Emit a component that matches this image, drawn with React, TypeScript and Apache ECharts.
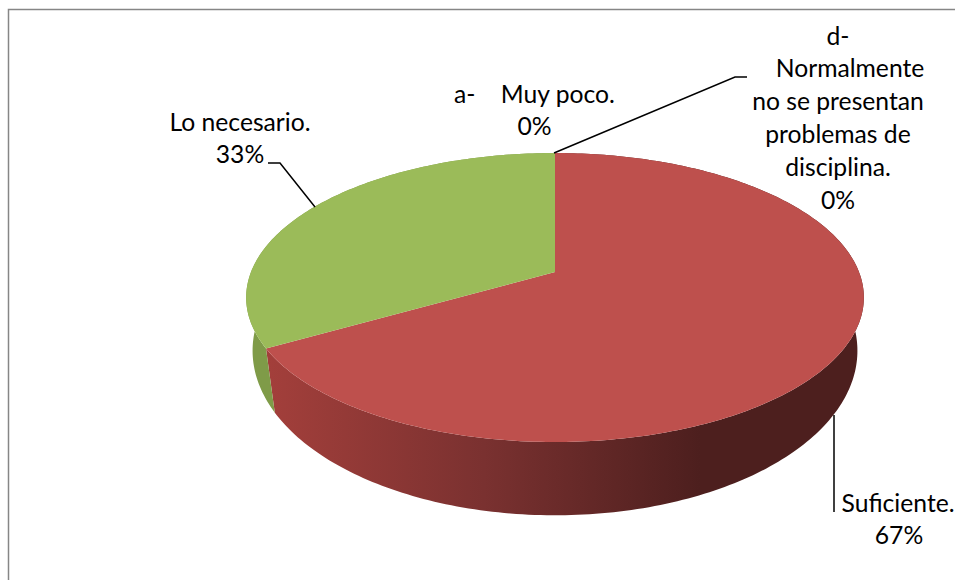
import React, { useEffect, useRef } from "react";
import * as echarts from "echarts";

const sliceNames = ["a-    Muy poco.", "Suficiente.", "Lo necesario.", "d-|Normalmente|no se presentan|problemas de|disciplina."];
const sliceValues = [0, 66.7, 33.3, 0];
const topColors = ["#4F81BD", "#BE504D", "#9BBB59", "#8064A2"];
const wallColors: any[] = [
  "#3B6190",
  {
    type: "linear", global: true, x: 268, y: 0, x2: 700, y2: 0,
    colorStops: [
      { offset: 0, color: "#A33F3B" },
      { offset: 0.5, color: "#7A3130" },
      { offset: 1, color: "#4D1F1E" },
    ],
  },
  "#7F9B48",
  "#60497A",
];

// Perspective projection of the pie's top and bottom discs
const topDisc = { cx: 555, R: 304, c: -0.1765, a: 92, b: 272 };
const bottomDisc = { cx: 555, R: 299, c: -0.15, a: 112, b: 326 };

// Label layout: centre x, first line's y, and per-line x shifts
const labelLayout = [
  { x: 534.5, y: 93, shift: [] as number[] },
  { x: 898, y: 502, shift: [0, 1] },
  { x: 240, y: 121, shift: [] as number[] },
  { x: 838, y: 35, shift: [0, 12] },
];
const lineHeight = 32.8;
const leaders = [
  [[268, 163], [280, 163], [315, 207]],
  [[747, 77], [735, 77], [554, 153]],
  [[834, 415], [834, 512]],
];
const FONT = "Lato";
const FONT_SIZE = 24.7;

const total = sliceValues.reduce((s, v) => s + v, 0);

function project(d: typeof topDisc, theta: number) {
  const u = Math.sin(theta);
  const v = -Math.cos(theta);
  const w = 1 + d.c * v;
  return [d.cx + (d.R * u) / w, (d.a * v + d.b) / w];
}

function sliceRange(i: number) {
  let before = 0;
  for (let k = 0; k < i; k++) before += sliceValues[k];
  const t0 = (before / total) * Math.PI * 2;
  const t1 = ((before + sliceValues[i]) / total) * Math.PI * 2;
  return [t0, t1];
}

function arcPoints(d: typeof topDisc, t0: number, t1: number) {
  const n = Math.max(2, Math.ceil(((t1 - t0) / (Math.PI * 2)) * 360));
  const pts: number[][] = [];
  for (let k = 0; k <= n; k++) pts.push(project(d, t0 + ((t1 - t0) * k) / n));
  return pts;
}

const renderWall = (params: any, api: any) => {
  if (!api.value(0)) return null;
  const [t0, t1] = sliceRange(params.dataIndex);
  const points = arcPoints(topDisc, t0, t1).concat(arcPoints(bottomDisc, t0, t1).reverse());
  return { type: "polygon", shape: { points }, style: { fill: wallColors[params.dataIndex] } };
};

const renderTop = (params: any, api: any) => {
  if (!api.value(0)) return null;
  const [t0, t1] = sliceRange(params.dataIndex);
  const centre = [topDisc.cx, topDisc.b];
  const points = [centre].concat(arcPoints(topDisc, t0, t1));
  return { type: "polygon", shape: { points }, style: { fill: topColors[params.dataIndex] } };
};

function labelGraphics() {
  const out: any[] = [];
  sliceNames.forEach((name, i) => {
    const lay = labelLayout[i];
    const lines = name.split("|").concat(`${Math.round((sliceValues[i] / total) * 100)}%`);
    lines.forEach((line, j) => {
      out.push({
        type: "text",
        x: lay.x + (lay.shift[j] || 0),
        y: lay.y + j * lineHeight,
        style: {
          text: line,
          fill: "#000000",
          font: `${FONT_SIZE}px ${FONT}`,
          align: "center",
          verticalAlign: "middle",
        },
      });
    });
  });
  return out;
}

export default function App() {
  const ref = useRef<HTMLDivElement>(null);
  useEffect(() => {
    document.body.style.margin = "0";
    const chart = echarts.init(ref.current!, null, { renderer: "svg" });
    const data = sliceValues.map((value, i) => ({ name: sliceNames[i], value }));
    chart.setOption({
      animation: false,
      backgroundColor: "#FFFFFF",
      series: [
        { type: "custom", coordinateSystem: "none", silent: true, z: 2, renderItem: renderWall, data },
        { type: "custom", coordinateSystem: "none", silent: true, z: 3, renderItem: renderTop, data },
      ],
      graphic: [
        {
          type: "polyline",
          z: 1,
          shape: { points: [[8.5, 585], [8.5, 9.5], [960, 9.5]] },
          style: { stroke: "#868686", lineWidth: 1.5, fill: "none" },
        },
        ...leaders.map((points) => ({
          type: "polyline",
          z: 5,
          shape: { points },
          style: { stroke: "#000000", lineWidth: 1.5, fill: "none" },
        })),
        ...labelGraphics().map((t) => ({ ...t, z: 6 })),
      ],
    });
    return () => chart.dispose();
  }, []);
  return <div ref={ref} style={{ position: "absolute", left: 0, top: 0, width: 955, height: 580 }} />;
}
